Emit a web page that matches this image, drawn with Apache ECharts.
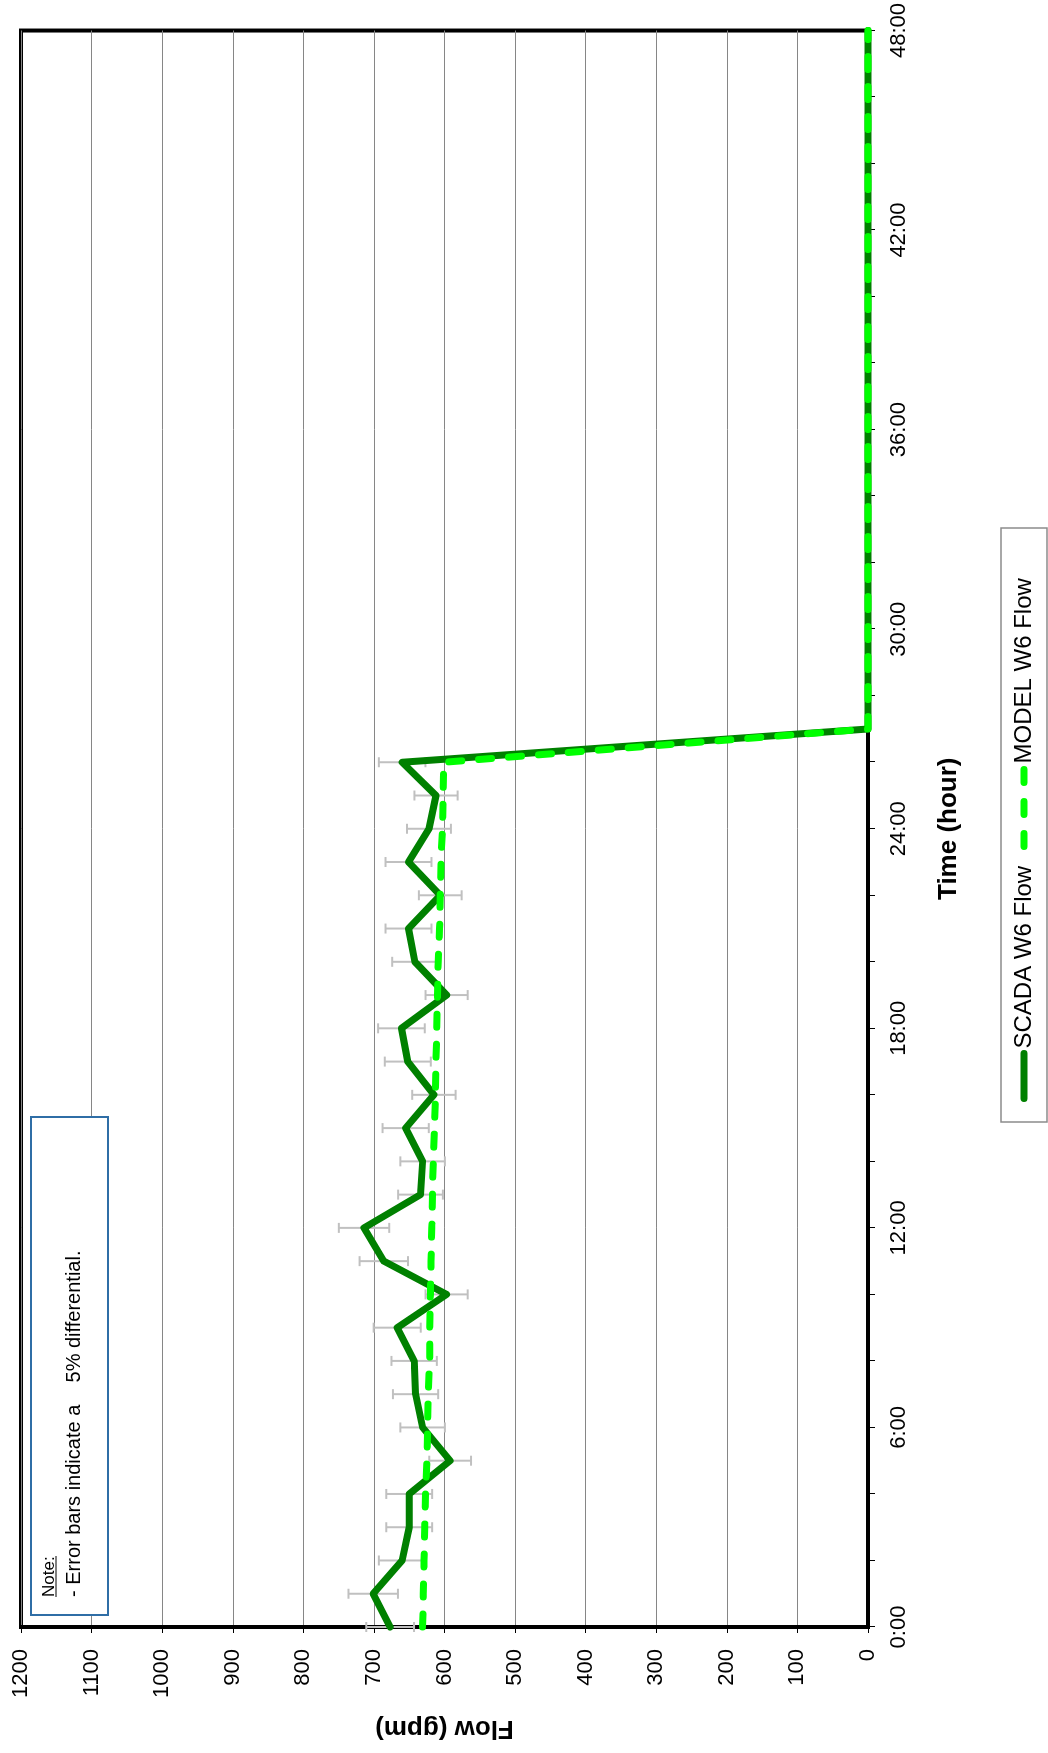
<!DOCTYPE html>
<html>
<head>
<meta charset="utf-8">
<script src="https://cdn.jsdelivr.net/npm/echarts@6/dist/echarts.min.js"></script>
<style>
html,body{margin:0;padding:0;width:1048px;height:1753px;overflow:hidden;background:#fff;}
#chart{position:absolute;left:0;top:0;width:1753px;height:1048px;transform-origin:0 0;transform:translateY(1753px) rotate(-90deg);}
</style>
</head>
<body>
<div id="chart"></div>
<script>
// Time in hours
const hours = [0,1,2,3,4,5,6,7,8,9,10,11,12,13,14,15,16,17,18,19,20,21,22,23,24,25,26,27,48];
// SCADA W6 Flow (gpm)
const scadaFlow = [677,701,660,650,650,592,631,641,643,667,597,686,714,634,631,655,615,652,661,597,642,651,606,651,622,612,660,0,0];
// MODEL W6 Flow (gpm)
const modelFlow = [631,630,629,628,627,625,624,623,621,621,620,619,618,617,616,614,613,612,611,610,609,607,606,605,603,602,601,0,0];
// Axis tick labels
const timeLabels = ['0:00','6:00','12:00','18:00','24:00','30:00','36:00','42:00','48:00'];
const flowLabels = ['0','100','200','300','400','500','600','700','800','900','1000','1100','1200'];
const errorPct = 0.05;

const FONT = '"Liberation Sans", Arial, Helvetica, sans-serif';
const chart = echarts.init(document.getElementById('chart'));

const scadaData = hours.map((h, i) => [h, scadaFlow[i]]);
const modelData = hours.map((h, i) => [h, modelFlow[i]]);
const errData = hours.map((h, i) => [h, scadaFlow[i] * (1 - errorPct), scadaFlow[i] * (1 + errorPct)]).filter(d => d[2] > 0);

const option = {
  animation: false,
  backgroundColor: '#fff',
  grid: {left: 126, right: 30, top: 21, bottom: 180, show: true, borderColor: '#000', borderWidth: 4, backgroundColor: '#fff'},
  xAxis: {
    type: 'value', min: 0, max: 48, interval: 6,
    axisLine: {show: true, onZero: false, lineStyle: {color: '#000', width: 4}},
    axisTick: {show: true, length: 7, lineStyle: {color: '#000', width: 1}},
    minorTick: {show: true, splitNumber: 3, length: 7, lineStyle: {color: '#000', width: 1}},
    splitLine: {show: false},
    axisLabel: {margin: 20, fontSize: 22, color: '#000', fontFamily: FONT,
      formatter: v => timeLabels[Math.round(v / 6)]},
    name: 'Time (hour)', nameLocation: 'middle', nameGap: 68,
    nameTextStyle: {fontSize: 26, fontWeight: 'bold', color: '#000', fontFamily: FONT}
  },
  yAxis: {
    type: 'value', min: 0, max: 1200, interval: 100,
    axisLine: {show: true, onZero: false, lineStyle: {color: '#000', width: 4}},
    axisTick: {show: true, length: 6, lineStyle: {color: '#000', width: 1}},
    splitLine: {show: true, lineStyle: {color: '#868686', width: 1}},
    axisLabel: {margin: 22, fontSize: 22, color: '#000', fontFamily: FONT,
      formatter: v => flowLabels[Math.round(v / 100)]},
    name: 'Flow (gpm)', nameLocation: 'middle', nameRotate: 90, nameGap: 88,
    nameTextStyle: {fontSize: 26, fontWeight: 'bold', color: '#000', fontFamily: FONT}
  },
  legend: [
    {data: ['SCADA W6 Flow'], left: 651, top: 1012, padding: 0, itemWidth: 45, itemHeight: 14,
     itemStyle: {opacity: 0}, lineStyle: {width: 7, cap: 'round'},
     textStyle: {fontSize: 24, color: '#000', fontFamily: FONT}, z: 120},
    {data: ['MODEL W6 Flow'], left: 903, top: 1012, padding: 0, itemWidth: 78, itemHeight: 14,
     itemStyle: {opacity: 0}, lineStyle: {width: 7, cap: 'round', type: [13, 19]},
     textStyle: {fontSize: 24, color: '#000', fontFamily: FONT}, z: 120}
  ],
  graphic: [
    {type: 'rect', z: 100, shape: {x: 631, y: 1001, width: 594, height: 46},
     style: {fill: '#fff', stroke: '#8c8c8c', lineWidth: 1.5}},
    {type: 'rect', z: 100, shape: {x: 138, y: 31, width: 498, height: 77},
     style: {fill: '#fff', stroke: '#2f6ea6', lineWidth: 2}},
    {type: 'text', z: 101, style: {x: 156, y: 58, text: 'Note:', fontSize: 17, fontFamily: FONT, fill: '#000', verticalAlign: 'bottom', align: 'left'}},
    {type: 'line', z: 101, shape: {x1: 156, y1: 56, x2: 197, y2: 56}, style: {stroke: '#000', lineWidth: 1}},
    {type: 'text', z: 101, style: {x: 156, y: 84, text: '- Error bars indicate a    5% differential.', fontSize: 20, fontFamily: FONT, fill: '#000', verticalAlign: 'bottom', align: 'left'}}
  ],
  series: [
    {
      type: 'custom', name: 'error', z: 1, silent: true,
      data: errData,
      encode: {x: 0, y: [1, 2]},
      renderItem: (params, api) => {
        const t = api.value(0);
        const p1 = api.coord([t, api.value(1)]);
        const p2 = api.coord([t, api.value(2)]);
        const st = {stroke: '#c0c0c0', lineWidth: 2};
        return {type: 'group', children: [
          {type: 'line', shape: {x1: p1[0], y1: p1[1], x2: p2[0], y2: p2[1]}, style: st},
          {type: 'line', shape: {x1: p1[0] - 5, y1: p1[1], x2: p1[0] + 5, y2: p1[1]}, style: st},
          {type: 'line', shape: {x1: p2[0] - 5, y1: p2[1], x2: p2[0] + 5, y2: p2[1]}, style: st}
        ]};
      }
    },
    {
      type: 'line', name: 'SCADA W6 Flow', z: 3, data: scadaData, symbol: 'none', showSymbol: false, clip: false,
      itemStyle: {color: '#008000'},
      lineStyle: {color: '#008000', width: 7, cap: 'round', join: 'round'}
    },
    {
      type: 'line', name: 'MODEL W6 Flow', z: 4, data: modelData, symbol: 'none', showSymbol: false, clip: false,
      itemStyle: {color: '#00ff00'},
      lineStyle: {color: '#00ff00', width: 7, type: [13, 17], cap: 'round', join: 'round'}
    }
  ]
};
chart.setOption(option);
</script>
</body>
</html>
